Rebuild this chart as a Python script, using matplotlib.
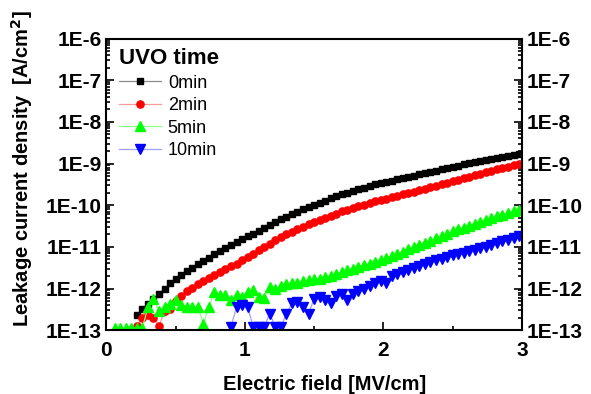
import matplotlib
matplotlib.use("Agg")
import matplotlib.pyplot as plt
import matplotlib.ticker as ticker
import numpy as np

plt.rcParams["font.family"] = ["Liberation Sans", "DejaVu Sans"]

# electric field grid of the sweep [MV/cm]
FIELD = [0.02, 0.06, 0.10, 0.14, 0.18, 0.22, 0.26, 0.30, 0.34, 0.38,
         0.42, 0.46, 0.50, 0.54, 0.58, 0.62, 0.66, 0.70, 0.74, 0.78,
         0.82, 0.86, 0.90, 0.94, 0.98, 1.02, 1.06, 1.10, 1.14, 1.18,
         1.22, 1.26, 1.30, 1.34, 1.38, 1.42, 1.46, 1.50, 1.54, 1.58,
         1.62, 1.66, 1.70, 1.74, 1.78, 1.82, 1.86, 1.90, 1.94, 1.98,
         2.02, 2.06, 2.10, 2.14, 2.18, 2.22, 2.26, 2.30, 2.34, 2.38,
         2.42, 2.46, 2.50, 2.54, 2.58, 2.62, 2.66, 2.70, 2.74, 2.78,
         2.82, 2.86, 2.90, 2.94, 2.98]

# leakage current density [A/cm2]; each series runs to the end of FIELD
J_0MIN = [2.29e-13, 3.16e-13, 4.27e-13, 5.75e-13, 7.59e-13,
          1.00e-12, 1.32e-12, 1.66e-12, 2.09e-12, 2.63e-12,
          3.16e-12, 3.80e-12, 4.57e-12, 5.50e-12, 6.61e-12,
          7.94e-12, 9.33e-12, 1.10e-11, 1.29e-11, 1.51e-11,
          1.78e-11, 2.09e-11, 2.45e-11, 2.88e-11, 3.39e-11,
          3.98e-11, 4.57e-11, 5.25e-11, 6.03e-11, 6.92e-11,
          7.94e-11, 9.12e-11, 1.02e-10, 1.15e-10, 1.29e-10,
          1.45e-10, 1.62e-10, 1.82e-10, 2.00e-10, 2.19e-10,
          2.40e-10, 2.63e-10, 2.88e-10, 3.16e-10, 3.39e-10,
          3.63e-10, 3.89e-10, 4.17e-10, 4.47e-10, 4.79e-10,
          5.13e-10, 5.50e-10, 5.89e-10, 6.31e-10, 6.76e-10,
          7.24e-10, 7.76e-10, 8.32e-10, 8.91e-10, 9.55e-10,
          1.02e-9, 1.10e-9, 1.17e-9, 1.23e-9, 1.29e-9,
          1.38e-9, 1.45e-9, 1.55e-9, 1.62e-9, 1.74e-9]

J_2MIN = [1.26e-13, 1.91e-13, 2.29e-13, 2.00e-13, 1.26e-13,
          2.82e-13, 3.16e-13, 5.01e-13, 6.61e-13, 8.51e-13,
          1.05e-12, 1.26e-12, 1.51e-12, 1.78e-12, 2.09e-12,
          2.45e-12, 2.88e-12, 3.39e-12, 3.98e-12, 4.79e-12,
          5.75e-12, 6.92e-12, 8.32e-12, 1.00e-11, 1.20e-11,
          1.45e-11, 1.70e-11, 2.00e-11, 2.29e-11, 2.63e-11,
          3.02e-11, 3.47e-11, 3.98e-11, 4.47e-11, 5.01e-11,
          5.62e-11, 6.31e-11, 7.08e-11, 7.76e-11, 8.51e-11,
          9.33e-11, 1.02e-10, 1.12e-10, 1.23e-10, 1.32e-10,
          1.41e-10, 1.55e-10, 1.66e-10, 1.82e-10, 1.95e-10,
          2.09e-10, 2.29e-10, 2.45e-10, 2.69e-10, 2.95e-10,
          3.16e-10, 3.47e-10, 3.80e-10, 4.07e-10, 4.47e-10,
          4.79e-10, 5.25e-10, 5.75e-10, 6.17e-10, 6.61e-10,
          7.24e-10, 7.76e-10, 8.32e-10, 9.12e-10, 1.00e-9]

J_5MIN = [1.12e-13, 1.12e-13, 1.12e-13, 1.12e-13, 1.12e-13,
          1.12e-13, 3.63e-13, 5.75e-13, 2.82e-13, 3.63e-13,
          4.17e-13, 5.25e-13, 3.98e-13, 3.63e-13, 3.63e-13,
          3.63e-13, 1.41e-13, 3.63e-13, 8.32e-13, 6.92e-13,
          6.92e-13, 5.25e-13, 6.92e-13, 6.31e-13, 8.32e-13,
          9.12e-13, 6.31e-13, 6.03e-13, 1.10e-12, 9.55e-13,
          1.15e-12, 1.26e-12, 1.38e-12, 1.32e-12, 1.51e-12,
          1.58e-12, 1.66e-12, 1.74e-12, 1.91e-12, 2.00e-12,
          2.24e-12, 2.51e-12, 2.75e-12, 3.02e-12, 3.31e-12,
          3.63e-12, 3.98e-12, 4.37e-12, 4.79e-12, 5.37e-12,
          6.03e-12, 6.76e-12, 7.59e-12, 8.71e-12, 1.00e-11,
          1.12e-11, 1.26e-11, 1.41e-11, 1.62e-11, 1.86e-11,
          2.09e-11, 2.34e-11, 2.63e-11, 2.88e-11, 3.24e-11,
          3.63e-11, 3.98e-11, 4.47e-11, 4.90e-11, 5.37e-11,
          5.89e-11, 6.46e-11, 7.08e-11, 7.76e-11]

J_10MIN = [1.20e-13, 3.63e-13, 3.98e-13, 3.63e-13, 1.20e-13,
           1.20e-13, 1.20e-13, 2.51e-13, 1.20e-13, 1.20e-13,
           2.51e-13, 4.37e-13, 4.79e-13, 3.55e-13, 2.51e-13,
           5.75e-13, 6.31e-13, 5.25e-13, 4.37e-13, 6.61e-13,
           7.59e-13, 5.25e-13, 7.24e-13, 8.71e-13, 1.00e-12,
           1.15e-12, 1.32e-12, 1.51e-12, 1.38e-12, 2.00e-12,
           2.29e-12, 2.51e-12, 2.82e-12, 3.16e-12, 3.55e-12,
           3.98e-12, 4.37e-12, 4.79e-12, 5.25e-12, 5.75e-12,
           6.31e-12, 6.76e-12, 7.24e-12, 7.76e-12, 8.51e-12,
           9.33e-12, 1.02e-11, 1.12e-11, 1.23e-11, 1.35e-11,
           1.48e-11, 1.62e-11, 1.82e-11]

LABELS = ["0min", "2min", "5min", "10min"]
SERIES = [J_0MIN, J_2MIN, J_5MIN, J_10MIN]
MARKER_COLORS = ["#000000", "#ff0000", "#00ff00", "#0000ff"]
LINE_COLORS = ["#8c8c8c", "#ff9a9a", "#8cff8c", "#a0a0ff"]
MARKERS = ["s", "o", "^", "v"]
MARKER_SIZES = [4.6, 5.2, 6.5, 6.5]

fig = plt.figure(figsize=(5.91, 3.94), dpi=100)
ax = fig.add_axes([0.180, 0.162, 0.703, 0.740])

for vals, lab, mc, lc, mk, ms in zip(SERIES, LABELS, MARKER_COLORS,
                                     LINE_COLORS, MARKERS, MARKER_SIZES):
    x = FIELD[len(FIELD) - len(vals):]
    ax.plot(x, vals, color=lc, linewidth=0.9, marker=mk, markersize=ms,
            markerfacecolor=mc, markeredgecolor=mc, label=lab)

ax.set_yscale("log")
ax.set_xlim(0, 3)
ax.set_ylim(1e-13, 1e-6)

ax.xaxis.set_major_locator(ticker.MultipleLocator(1))
ax.xaxis.set_minor_locator(ticker.MultipleLocator(0.5))
ax.yaxis.set_major_locator(ticker.LogLocator(base=10, numticks=20))
ax.yaxis.set_minor_locator(ticker.LogLocator(base=10, subs=np.arange(2, 10), numticks=20))
ax.yaxis.set_minor_formatter(ticker.NullFormatter())
ax.yaxis.set_major_formatter(
    ticker.FuncFormatter(lambda v, p: "1E%d" % int(round(np.log10(v)))))

ax.tick_params(axis="both", which="both", direction="in", width=1.2)
ax.tick_params(axis="both", which="major", length=6, labelsize=15)
ax.tick_params(axis="both", which="minor", length=3)
ax.tick_params(axis="y", which="both", left=True, right=True, labelright=True)
ax.tick_params(axis="x", which="both", top=False)
ax.tick_params(axis="x", pad=8)
for lbl in ax.get_xticklabels() + ax.get_yticklabels():
    lbl.set_fontweight("bold")
for lbl in ax.yaxis.get_ticklabels(which="major"):
    lbl.set_fontweight("bold")
for sp in ax.spines.values():
    sp.set_linewidth(1.5)

ax.set_xlabel("Electric field [MV/cm]", fontsize=14.5, fontweight="bold")
ax.xaxis.set_label_coords(0.525, -0.155)
ax.set_ylabel("Leakage current density  [A/cm$\\mathbf{^2}$]", fontsize=14.5,
              fontweight="bold")
ax.yaxis.set_label_coords(-0.172, 0.555)

leg = ax.legend(loc="upper left", bbox_to_anchor=(0.0, 1.01), frameon=False,
                title="UVO time", fontsize=13, handlelength=2.3,
                handletextpad=0.4, labelspacing=0.3, borderaxespad=0.3,
                alignment="left")
leg.get_title().set_fontweight("bold")
leg.get_title().set_fontsize(16)

fig.savefig("out.png", dpi=100)
